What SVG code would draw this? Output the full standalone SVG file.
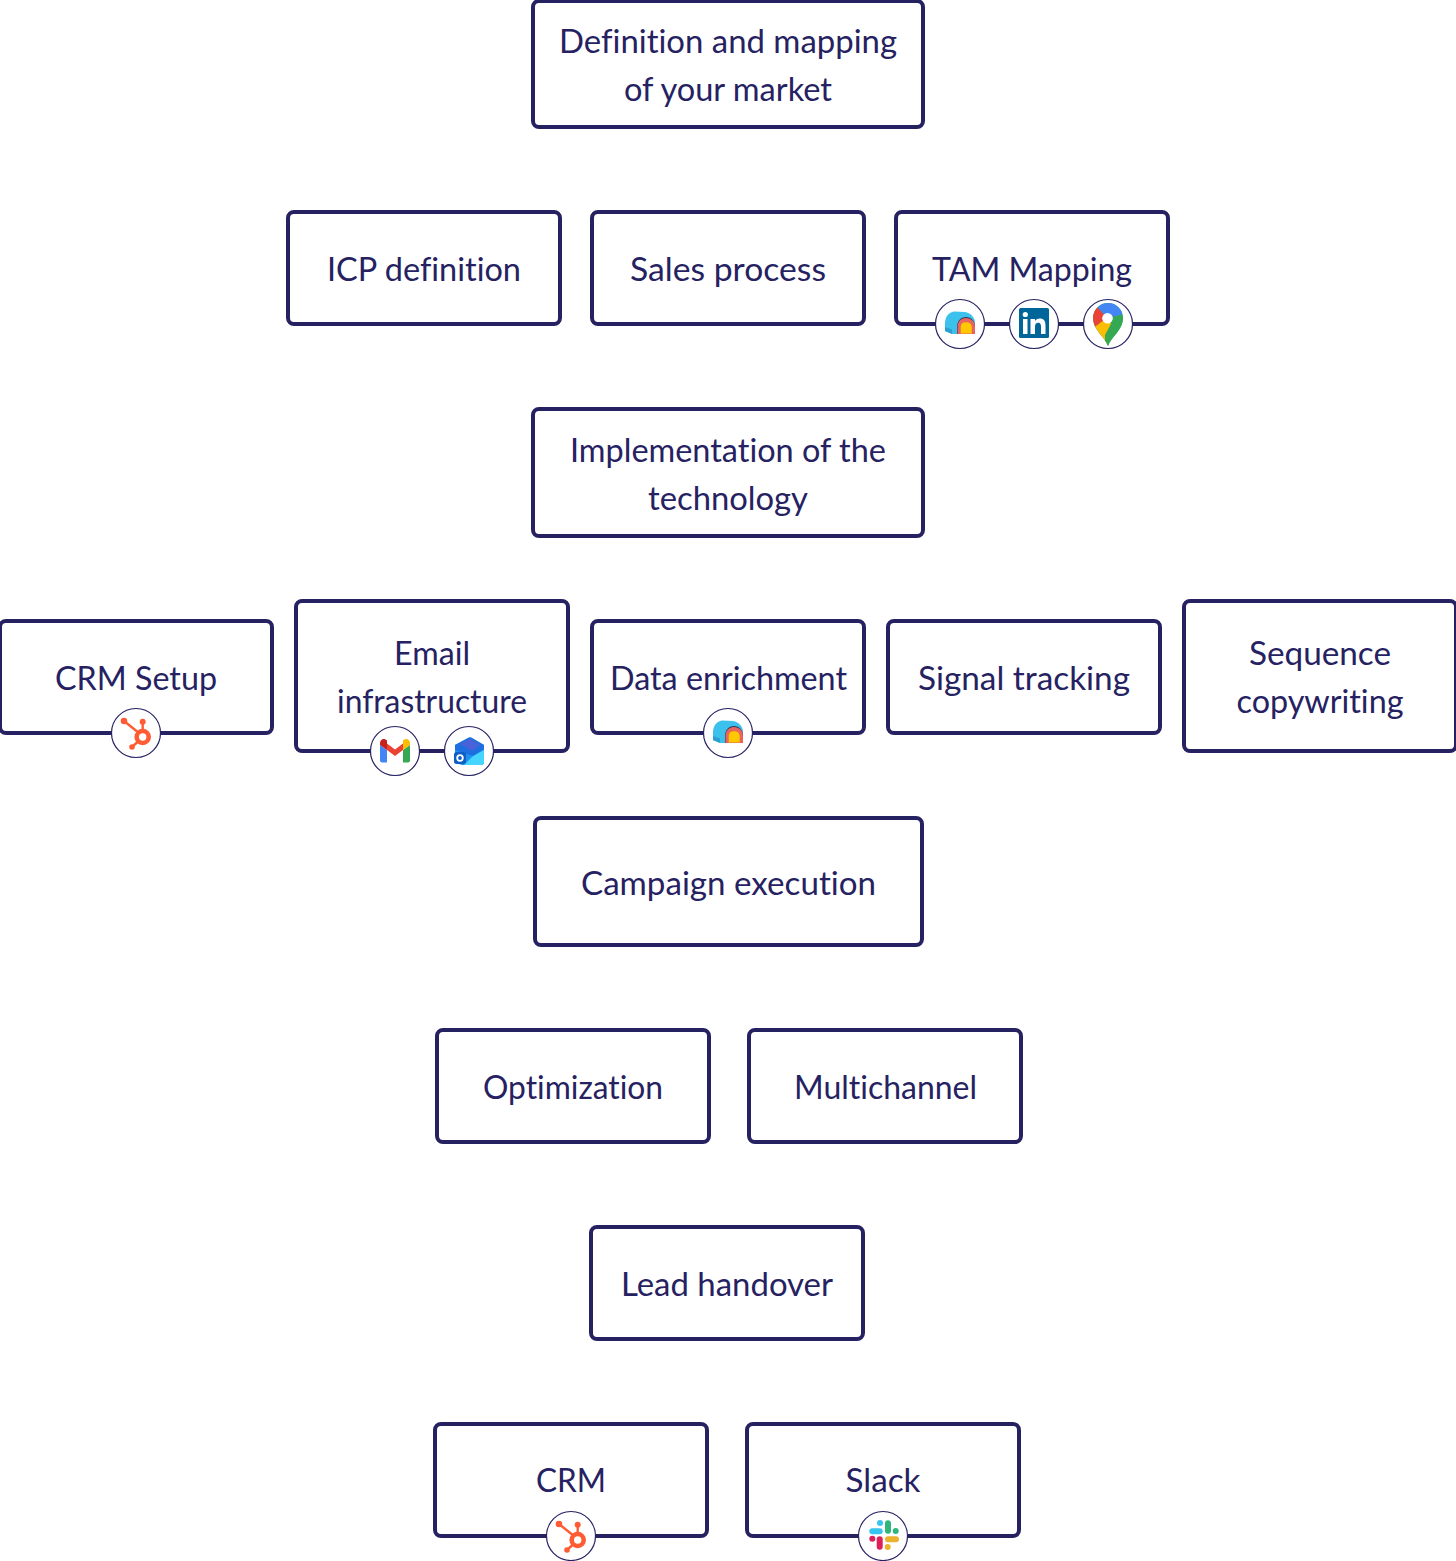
<svg xmlns="http://www.w3.org/2000/svg" width="1456" height="1561" viewBox="0 0 1456 1561">
<style>
.b{fill:#fff;stroke:#262262;stroke-width:4}
.t{font-family:"Lato","Liberation Sans",sans-serif;font-size:33px;fill:#262262;text-anchor:middle;font-variant-ligatures:none}
.c{fill:#fff;stroke:#262262;stroke-width:1.2}
</style>
<defs>
<clipPath id="pin"><path d="M0 22C-3 13-15 6-15-6A15 15 0 0 1 15-6C15 6 3 13 0 22Z"/></clipPath>
<g id="hub">
<circle cx="6.7" cy="4" r="6" fill="none" stroke="#ff5c35" stroke-width="4.6"/>
<path d="M-12-12L3 0M6.700-11V-2M-4 14L2 8.500" stroke="#ff5c35" stroke-width="2.400" fill="none"/>
<circle cx="-12" cy="-12" r="3.300" fill="#ff5c35"/><circle cx="6.700" cy="-11.300" r="3" fill="#ff5c35"/><circle cx="-4" cy="14" r="2.800" fill="#ff5c35"/>
</g>
<g id="arch">
<path d="M-15 7V-1C-15-7-11-12-6-12.500L5-12C11-11 15-6 15-1V10H-8L-15 7Z" fill="#3cc0ec"/>
<path d="M-15 3L-8 5.500V10L-15 7Z" fill="#2a9fd0"/>
<path d="M-3 10V3C-3-3 1-7 6-7C11-7 15-3 15 3V10Z" fill="#33335a"/>
<path d="M-2.500 10V3C-2.500-2.500 1-6 6-6C11-6 15-2.500 15 3V10Z" fill="#e9645f"/>
<path d="M.700 9.500V3C.700-.5 3-1.700 6.200-1.700C9.500-1.700 11.700 0 11.700 3V9.500Z" fill="#ffc800"/>
</g>
<g id="li">
<rect x="-15" y="-16" width="30" height="30" rx="1.500" fill="#006699"/>
<rect x="-11" y="-5" width="4.500" height="15" fill="#fff"/><circle cx="-8.700" cy="-9.500" r="2.600" fill="#fff"/>
<path d="M-3.500-5H1V-3C2-4.500 3.500-5.400 5.500-5.400C10-5.400 11.500-2.800 11.500 1.500V10H7V2.500C7 .5 6.400-1.300 4.300-1.300C2-1.300 1 .3 1 2.500V10H-3.500Z" fill="#fff"/>
</g>
<g id="map">
<g clip-path="url(#pin)">
<rect x="-16" y="-22" width="32" height="46" fill="#34a853"/>
<polygon points="-11,-17 -4,-26 20,-26 20,-11 -1,-6" fill="#4285f4"/>
<polygon points="-11,-17 -1,-6 -20,8 -22,-10" fill="#ea4335"/>
<polygon points="-20,8 -4,-4 4,0 -2,24 -8,24" fill="#fbbc04"/>
<polygon points="-3,11 4,-2 20,-11 20,24 -3,24" fill="#34a853"/>
</g>
<circle cx="-.500" cy="-5.700" r="5.300" fill="#fff"/>
</g>
<g id="gm">
<path d="M-15 11.500V-6L-8 -1V11.500H-13C-14 11.500-15 10.500-15 9.500Z" fill="#4285f4"/>
<path d="M15 11.500V-6L8 -1V11.500H13C14 11.500 15 10.500 15 9.500Z" fill="#34a853"/>
<path d="M-8-1V-7.500L0 -1.500L8-7.500V-1L0 5Z" fill="#ea4335"/>
<path d="M-15-6V-8C-15-11-12-13-9.500-11.500L-8-10.500V-1Z" fill="#c5221f"/>
<path d="M15-6V-8C15-11 12-13 9.500-11.500L8-10.500V-1Z" fill="#fbbc04"/>
</g>
<g id="ol">
<path d="M-14-6L0-13.500H2L15-6V11C15 13 14 14 12 14H-6C-8 14-14 12-14 10Z" fill="#1e90f0"/>
<path d="M-5 14L4 5L15-1V11C15 13 14 14 12 14Z" fill="#45d5ff"/>
<path d="M-14-6L0-13.500H2L15-6V-2L4 5L-14-1Z" fill="#1d6fe0"/>
<path d="M-9-7L1-12.500L11-6L3 0Z" fill="#4a62d8"/>
<rect x="-15" y="1" width="12" height="12" rx="2.500" fill="#0f5fc4"/>
<circle cx="-9" cy="7" r="2.800" fill="none" stroke="#fff" stroke-width="1.800"/>
</g>
<g id="sl">
<rect x="-13.700" y="-7.700" width="13.400" height="6" rx="3" fill="#36c5f0"/><circle cx="-3" cy="-13" r="3" fill="#36c5f0"/>
<rect x="2" y="-15.700" width="6" height="13.400" rx="3" fill="#2eb67d"/><circle cx="12.700" cy="-5" r="3" fill="#2eb67d"/>
<rect x="-6.300" y=".3" width="6" height="13.400" rx="3" fill="#e01e5a"/><circle cx="-10.700" cy="2.700" r="3" fill="#e01e5a"/>
<rect x="2" y=".3" width="14" height="6" rx="3" fill="#ecb22e"/><circle cx="4.700" cy="11" r="3" fill="#ecb22e"/>
</g>
</defs>
<rect width="1456" height="1561" fill="#fff"/>
<g id="connectors"></g>
<g id="n1"><rect class="b" x="533" y="1" width="390" height="126" rx="6"/><text class="t" x="728" y="53" textLength="338" lengthAdjust="spacingAndGlyphs">Definition and mapping</text><text class="t" x="728" y="101" textLength="208" lengthAdjust="spacingAndGlyphs">of your market</text></g>
<g id="n2"><rect class="b" x="288" y="212" width="272" height="112" rx="6"/><text class="t" x="424" y="281" textLength="194" lengthAdjust="spacingAndGlyphs">ICP definition</text></g>
<g id="n3"><rect class="b" x="592" y="212" width="272" height="112" rx="6"/><text class="t" x="728" y="281" textLength="196" lengthAdjust="spacingAndGlyphs">Sales process</text></g>
<g id="n4"><rect class="b" x="896" y="212" width="272" height="112" rx="6"/><text class="t" x="1032" y="281" textLength="200" lengthAdjust="spacingAndGlyphs">TAM Mapping</text>
<circle class="c" cx="960" cy="324" r="24.500"/><use href="#arch" x="960" y="324"/><circle class="c" cx="1034" cy="324" r="24.500"/><use href="#li" x="1034" y="324"/><circle class="c" cx="1108" cy="324" r="24.500"/><use href="#map" x="1108" y="324"/></g>
<g id="n5"><rect class="b" x="533" y="409" width="390" height="127" rx="6"/><text class="t" x="728" y="462" textLength="316" lengthAdjust="spacingAndGlyphs">Implementation of the</text><text class="t" x="728" y="510" textLength="160" lengthAdjust="spacingAndGlyphs">technology</text></g>
<g id="n6"><rect class="b" x="0" y="621" width="272" height="112" rx="6"/><text class="t" x="136" y="690" textLength="162" lengthAdjust="spacingAndGlyphs">CRM Setup</text><circle class="c" cx="136" cy="733" r="24.500"/><use href="#hub" x="136" y="733"/></g>
<g id="n7"><rect class="b" x="296" y="601" width="272" height="150" rx="6"/><text class="t" x="432" y="665" textLength="76" lengthAdjust="spacingAndGlyphs">Email</text><text class="t" x="432" y="713" textLength="190" lengthAdjust="spacingAndGlyphs">infrastructure</text><circle class="c" cx="395" cy="751" r="24.500"/><use href="#gm" x="395" y="751"/><circle class="c" cx="469" cy="751" r="24.500"/><use href="#ol" x="469" y="751"/></g>
<g id="n8"><rect class="b" x="592" y="621" width="272" height="112" rx="6"/><text class="t" x="728.500" y="690" textLength="237" lengthAdjust="spacingAndGlyphs">Data enrichment</text><circle class="c" cx="728" cy="733" r="24.500"/><use href="#arch" x="728" y="733"/></g>
<g id="n9"><rect class="b" x="888" y="621" width="272" height="112" rx="6"/><text class="t" x="1024" y="690" textLength="212" lengthAdjust="spacingAndGlyphs">Signal tracking</text></g>
<g id="n10"><rect class="b" x="1184" y="601" width="272" height="150" rx="6"/><text class="t" x="1320" y="665" textLength="142" lengthAdjust="spacingAndGlyphs">Sequence</text><text class="t" x="1320" y="713" textLength="167" lengthAdjust="spacingAndGlyphs">copywriting</text></g>
<g id="n11"><rect class="b" x="535" y="818" width="387" height="127" rx="6"/><text class="t" x="728.500" y="895" textLength="295" lengthAdjust="spacingAndGlyphs">Campaign execution</text></g>
<g id="n12"><rect class="b" x="437" y="1030" width="272" height="112" rx="6"/><text class="t" x="573" y="1099" textLength="180" lengthAdjust="spacingAndGlyphs">Optimization</text></g>
<g id="n13"><rect class="b" x="749" y="1030" width="272" height="112" rx="6"/><text class="t" x="885.500" y="1099" textLength="183" lengthAdjust="spacingAndGlyphs">Multichannel</text></g>
<g id="n14"><rect class="b" x="591" y="1227" width="272" height="112" rx="6"/><text class="t" x="727" y="1296" textLength="212" lengthAdjust="spacingAndGlyphs">Lead handover</text></g>
<g id="n15"><rect class="b" x="435" y="1424" width="272" height="112" rx="6"/><text class="t" x="571" y="1492" textLength="70" lengthAdjust="spacingAndGlyphs">CRM</text><circle class="c" cx="571" cy="1536" r="24.500"/><use href="#hub" x="571" y="1536"/></g>
<g id="n16"><rect class="b" x="747" y="1424" width="272" height="112" rx="6"/><text class="t" x="883" y="1492" textLength="75" lengthAdjust="spacingAndGlyphs">Slack</text><circle class="c" cx="883" cy="1536" r="24.500"/><use href="#sl" x="883" y="1536"/></g>
</svg>
